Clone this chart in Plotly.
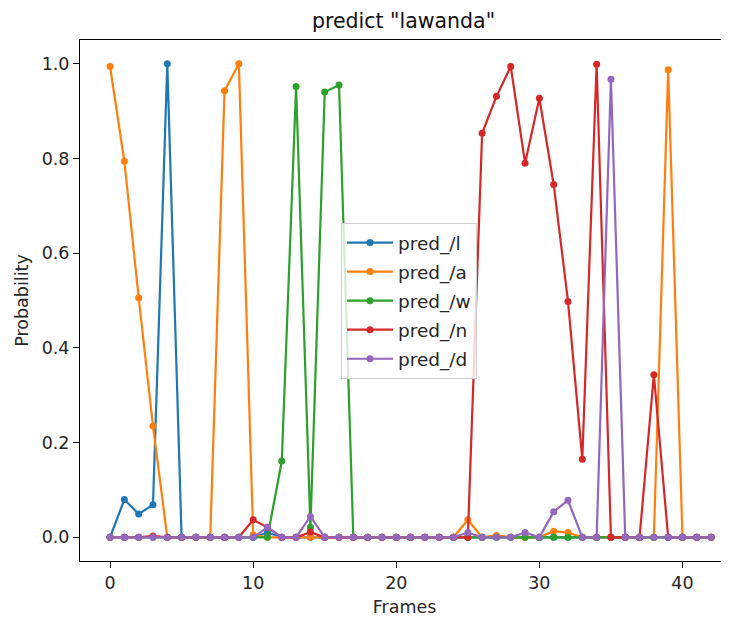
import plotly.graph_objects as go

frames = list(range(43))

pred_l = [0, 0.080, 0.049, 0.069, 1.0, 0, 0, 0, 0, 0,
          0, 0.010, 0, 0, 0, 0, 0, 0, 0, 0,
          0, 0, 0, 0, 0, 0, 0, 0, 0, 0,
          0, 0, 0, 0, 0, 0, 0, 0, 0, 0,
          0, 0, 0]
pred_a = [0.994, 0.794, 0.506, 0.235, 0, 0, 0, 0, 0.943, 1.0,
          0.005, 0, 0, 0, 0.0, 0, 0, 0, 0, 0,
          0, 0, 0, 0, 0, 0.037, 0, 0.004, 0, 0,
          0, 0.013, 0.010, 0, 0, 0, 0, 0, 0, 0.987,
          0, 0, 0]
pred_w = [0, 0, 0, 0, 0, 0, 0, 0, 0, 0,
          0, 0, 0.161, 0.952, 0.021, 0.940, 0.955, 0, 0, 0,
          0, 0, 0, 0, 0, 0, 0, 0, 0, 0,
          0, 0, 0, 0, 0, 0, 0, 0, 0, 0,
          0, 0, 0]
pred_n = [0, 0, 0, 0.003, 0, 0, 0, 0, 0, 0,
          0.037, 0.021, 0, 0, 0.011, 0, 0, 0, 0, 0,
          0, 0, 0, 0, 0, 0, 0.853, 0.931, 0.994, 0.790,
          0.927, 0.745, 0.498, 0.165, 0.999, 0, 0, 0, 0.343, 0,
          0, 0, 0]
pred_d = [0, 0, 0, 0, 0, 0, 0, 0, 0, 0,
          0, 0.021, 0, 0, 0.044, 0, 0, 0, 0, 0,
          0, 0, 0, 0, 0, 0.010, 0, 0, 0, 0.010,
          0, 0.054, 0.078, 0, 0, 0.967, 0, 0, 0, 0,
          0, 0, 0]

series = [("pred_/l", pred_l, "#1f77b4"),
          ("pred_/a", pred_a, "#ff7f0e"),
          ("pred_/w", pred_w, "#2ca02c"),
          ("pred_/n", pred_n, "#d62728"),
          ("pred_/d", pred_d, "#9467bd")]

fig = go.Figure()
for name, vals, color in series:
    fig.add_trace(go.Scatter(x=frames, y=vals, name=name, mode="lines+markers",
                             legendgroup=name,
                             line=dict(color=color, width=2.2),
                             marker=dict(color=color, size=7)))

font = "DejaVu Sans, sans-serif"
W, H = 721, 613
fig.update_layout(
    width=W, height=H,
    margin=dict(l=72, r=0, t=32, b=60),
    paper_bgcolor="white", plot_bgcolor="white",
    font=dict(family=font, size=17, color="#262626"),
    title=dict(text='predict "lawanda"', x=(403.5 - 80) / 649, xref="paper", xanchor="center",
               y=1 - 13 / H, yanchor="middle", font=dict(size=20.5, color="#111111")),
    showlegend=True,
    legend=dict(x=(341 - 80) / 649, y=(553 - 215) / 521, xanchor="left", yanchor="top",
                bgcolor="rgba(255,255,255,0.8)", bordercolor="#d0d0d0", borderwidth=1,
                tracegroupgap=2, itemwidth=46,
                font=dict(size=18.5, color="#262626")),
)
fig.update_xaxes(range=[-2.1, 43.25], tickvals=[0, 10, 20, 30, 40],
                 showline=True, linecolor="black", linewidth=1, mirror=True,
                 ticks="outside", ticklen=6, tickcolor="black", showgrid=False, zeroline=False,
                 tickfont=dict(size=17.5), automargin=False,
                 title=dict(text="Frames", font=dict(size=17.5, color="#262626"), standoff=8))
fig.update_yaxes(range=[-0.05, 1.05], tickvals=[0, 0.2, 0.4, 0.6, 0.8, 1.0], tickformat=".1f",
                 showline=True, linecolor="black", linewidth=1, mirror=False,
                 ticks="outside", ticklen=6, tickcolor="black", showgrid=False, zeroline=False,
                 tickfont=dict(size=17.5), automargin=False,
                 title=dict(text="Probability", font=dict(size=17.5, color="#262626"), standoff=8))

fig.write_html("out.html")
